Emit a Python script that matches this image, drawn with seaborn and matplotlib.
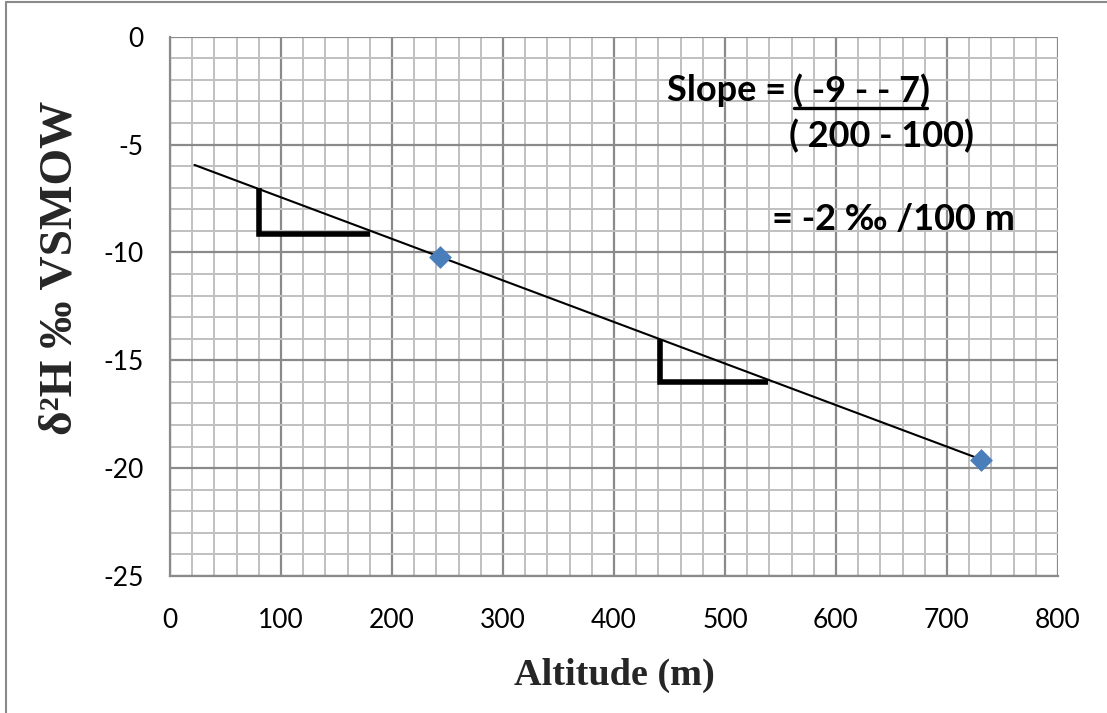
import numpy as np
import pandas as pd
import matplotlib
matplotlib.use("Agg")
import matplotlib.pyplot as plt
import seaborn as sns
from matplotlib.ticker import MultipleLocator

# ---- data ----
altitude = [243, 731]
delta2h = [-10.2, -19.6]
trend_x_range = [22, 731]          # Excel trendline (backward forecast)
xticks = [0, 100, 200, 300, 400, 500, 600, 700, 800]
yticks = [-25, -20, -15, -10, -5, 0]
# slope-illustration triangles (annotations)
tri1_x = [80, 80, 180]
tri1_y = [-7.0, -9.15, -9.15]
tri2_x = [441, 441, 539]
tri2_y = [-14.0, -16.0, -16.0]

sns.set_style("white")
plt.rcParams['font.family'] = ['Lato', 'DejaVu Sans']

fig = plt.figure(figsize=(11.07, 7.13), dpi=100)
ax = fig.add_axes([0.1536, 0.1921, 0.8021, 0.7564])

df = pd.DataFrame({"Altitude": altitude, "d2H": delta2h})
coef = np.polyfit(df["Altitude"], df["d2H"], 1)
tx = np.array(trend_x_range, dtype=float)
trend = pd.DataFrame({"x": tx, "y": np.polyval(coef, tx)})

# grid
ax.set_xlim(0, 800)
ax.set_ylim(-25, 0)
ax.xaxis.set_major_locator(MultipleLocator(100))
ax.xaxis.set_minor_locator(MultipleLocator(20))
ax.yaxis.set_major_locator(MultipleLocator(5))
ax.yaxis.set_minor_locator(MultipleLocator(1))
ax.grid(which='minor', color='#c0c0c0', linewidth=1.4, zorder=0)
ax.grid(which='major', color='#8a8a8a', linewidth=1.6, zorder=0)
ax.set_axisbelow(True)

sns.lineplot(data=trend, x="x", y="y", color='black', linewidth=1.5, ax=ax, zorder=3)
sns.scatterplot(data=df, x="Altitude", y="d2H", marker='D', s=135, color='#4a7ebb',
                edgecolor='#4a7ebb', linewidth=0, ax=ax, zorder=4, clip_on=False)

ax.plot(tri1_x, tri1_y, color='black', linewidth=4, solid_capstyle='butt',
        solid_joinstyle='miter', zorder=3)
ax.plot(tri2_x, tri2_y, color='black', linewidth=4, solid_capstyle='butt',
        solid_joinstyle='miter', zorder=3)

# annotation text
tkw = dict(fontsize=26, fontweight='bold', color='black', va='center', ha='left',
           family=['Lato', 'DejaVu Sans'])
ax.text(448, -2.5, "Slope = ", **tkw)
ax.text(561, -2.5, "( -9 - - 7)", **tkw)
ax.plot([562, 682], [-3.3, -3.3], color='black', linewidth=2.4, zorder=3)
ax.text(558, -4.6, "( 200 - 100)", **tkw)
ax.text(542, -8.45, "= -2 \u2030 /100 m", **tkw)

ax.set_xticks(xticks)
ax.set_yticks(yticks)
ax.set_xticklabels([str(v) for v in xticks])
ax.set_yticklabels([str(v) for v in yticks])
ax.tick_params(axis='both', which='major', labelsize=19, colors='#8a8a8a',
               labelcolor='black', length=7, width=1.6, direction='out')
ax.tick_params(axis='x', pad=16)
ax.tick_params(axis='y', pad=12)
ax.tick_params(which='minor', length=0)

for s in ['top', 'right']:
    ax.spines[s].set_visible(False)
for s in ['left', 'bottom']:
    ax.spines[s].set_color('#8a8a8a')
    ax.spines[s].set_linewidth(1.6)

ax.set_xlabel("")
ax.set_ylabel("")
fig.text(614 / 1107, 1 - 675 / 713, "Altitude (m)", family='Liberation Serif',
         fontweight='bold', fontsize=27.5, ha='center', va='center')
fig.text(60 / 1107, 1 - 268 / 713, "\u03b4\u00b2H \u2030 VSMOW", family='Liberation Serif',
         fontweight='bold', fontsize=34, ha='center', va='center', rotation=90)

# outer chart border
fig.add_artist(plt.Line2D([0.005, 0.005], [0.0, 0.997], transform=fig.transFigure,
                          color='#8a8a8a', linewidth=1.5))
fig.add_artist(plt.Line2D([0.005, 1.0], [0.997, 0.997], transform=fig.transFigure,
                          color='#8a8a8a', linewidth=1.5))

fig.savefig("out.png", dpi=100, facecolor='white')
